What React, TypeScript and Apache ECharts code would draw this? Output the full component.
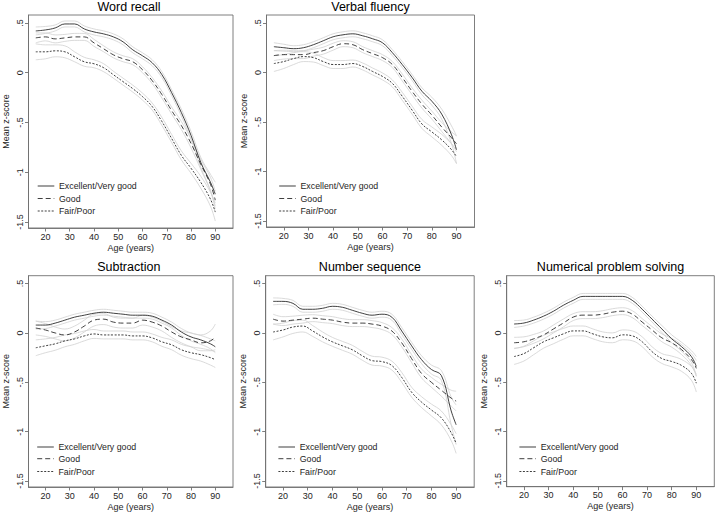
import React, { useEffect, useRef } from "react";
import * as echarts from "echarts";

// ---------- data ----------
const ages = [16, 20, 24, 28, 32, 36, 40, 44, 48, 52, 56, 60, 64, 68, 72, 76, 80, 84, 88, 90];
const xTicks = [20, 30, 40, 50, 60, 70, 80, 90];
const yTicks = [-1.5, -1, -0.5, 0, 0.5];
const groupLabels = ["Excellent/Very good", "Good", "Fair/Poor"];
const panelTitles = ["Word recall", "Verbal fluency", "Subtraction", "Number sequence", "Numerical problem solving"];

// Word recall
const wordE = [0.42, 0.43, 0.45, 0.49, 0.49, 0.44, 0.41, 0.39, 0.36, 0.31, 0.23, 0.17, 0.1, -0.02, -0.2, -0.4, -0.63, -0.9, -1.1, -1.22];
const wordG = [0.35, 0.36, 0.34, 0.35, 0.36, 0.36, 0.3, 0.24, 0.18, 0.14, 0.11, 0.03, -0.08, -0.22, -0.38, -0.53, -0.71, -0.92, -1.12, -1.28];
const wordF = [0.21, 0.21, 0.22, 0.21, 0.16, 0.11, 0.09, 0.05, -0.02, -0.09, -0.16, -0.24, -0.34, -0.49, -0.66, -0.83, -0.96, -1.1, -1.27, -1.4];
const wordCiE = [0.04, 0.035, 0.03, 0.03, 0.03, 0.03, 0.03, 0.03, 0.03, 0.03, 0.03, 0.03, 0.03, 0.03, 0.03, 0.035, 0.04, 0.05, 0.08, 0.12];
const wordCiG = [0.05, 0.04, 0.04, 0.035, 0.035, 0.035, 0.035, 0.03, 0.03, 0.03, 0.03, 0.03, 0.03, 0.035, 0.035, 0.04, 0.045, 0.05, 0.07, 0.09];
const wordCiF = [0.08, 0.07, 0.06, 0.06, 0.05, 0.045, 0.04, 0.04, 0.035, 0.035, 0.035, 0.035, 0.035, 0.04, 0.04, 0.045, 0.05, 0.06, 0.07, 0.09];

// Verbal fluency
const verbE = [0.26, 0.25, 0.24, 0.25, 0.28, 0.32, 0.36, 0.38, 0.39, 0.37, 0.34, 0.3, 0.2, 0.08, -0.05, -0.19, -0.29, -0.42, -0.63, -0.78];
const verbG = [0.17, 0.18, 0.18, 0.18, 0.2, 0.22, 0.26, 0.29, 0.28, 0.23, 0.19, 0.15, 0.08, -0.05, -0.19, -0.32, -0.43, -0.55, -0.66, -0.72];
const verbF = [0.09, 0.11, 0.14, 0.16, 0.15, 0.11, 0.08, 0.08, 0.09, 0.06, 0.01, -0.04, -0.11, -0.24, -0.38, -0.52, -0.6, -0.68, -0.78, -0.85];
const verbCiE = [0.04, 0.035, 0.03, 0.03, 0.03, 0.03, 0.03, 0.03, 0.03, 0.03, 0.03, 0.03, 0.03, 0.03, 0.03, 0.035, 0.04, 0.05, 0.09, 0.14];
const verbCiG = [0.05, 0.045, 0.04, 0.04, 0.035, 0.035, 0.035, 0.03, 0.03, 0.03, 0.03, 0.03, 0.03, 0.035, 0.035, 0.04, 0.04, 0.045, 0.06, 0.08];
const verbCiF = [0.08, 0.07, 0.06, 0.05, 0.045, 0.04, 0.04, 0.04, 0.035, 0.035, 0.035, 0.035, 0.035, 0.04, 0.04, 0.045, 0.05, 0.055, 0.06, 0.07];

// Subtraction
const subE = [0.08, 0.08, 0.1, 0.13, 0.16, 0.18, 0.2, 0.21, 0.2, 0.19, 0.18, 0.18, 0.17, 0.13, 0.08, 0.01, -0.04, -0.07, -0.11, -0.14];
const subG = [0.05, 0.03, 0.0, -0.02, 0.01, 0.07, 0.13, 0.14, 0.11, 0.1, 0.1, 0.13, 0.11, 0.07, 0.01, -0.04, -0.07, -0.1, -0.08, -0.04];
const subF = [-0.15, -0.13, -0.11, -0.08, -0.06, -0.03, -0.01, -0.02, -0.02, -0.02, -0.03, -0.03, -0.05, -0.09, -0.12, -0.17, -0.2, -0.22, -0.25, -0.27];
const subCiE = [0.04, 0.035, 0.03, 0.03, 0.03, 0.03, 0.03, 0.03, 0.03, 0.03, 0.03, 0.03, 0.03, 0.03, 0.03, 0.035, 0.04, 0.045, 0.05, 0.06];
const subCiG = [0.07, 0.065, 0.06, 0.06, 0.06, 0.06, 0.06, 0.055, 0.05, 0.05, 0.05, 0.05, 0.05, 0.05, 0.055, 0.06, 0.07, 0.08, 0.1, 0.13];
const subCiF = [0.08, 0.07, 0.065, 0.06, 0.055, 0.05, 0.045, 0.04, 0.04, 0.04, 0.04, 0.04, 0.04, 0.045, 0.05, 0.055, 0.06, 0.065, 0.075, 0.08];

// Number sequence
const seqE = [0.32, 0.32, 0.3, 0.24, 0.24, 0.25, 0.27, 0.26, 0.23, 0.2, 0.18, 0.19, 0.16, 0.02, -0.13, -0.27, -0.37, -0.43, -0.79, -0.93];
const seqG = [0.14, 0.12, 0.13, 0.14, 0.15, 0.14, 0.13, 0.11, 0.1, 0.1, 0.09, 0.07, 0.02, -0.1, -0.26, -0.41, -0.5, -0.58, -0.66, -0.69];
const seqF = [0.01, 0.03, 0.06, 0.07, 0.02, -0.04, -0.09, -0.13, -0.17, -0.23, -0.28, -0.29, -0.33, -0.45, -0.6, -0.7, -0.78, -0.86, -1.01, -1.12];
const seqCiE = [0.035, 0.03, 0.03, 0.03, 0.03, 0.03, 0.03, 0.03, 0.03, 0.03, 0.03, 0.03, 0.03, 0.035, 0.035, 0.04, 0.045, 0.05, 0.14, 0.2];
const seqCiG = [0.05, 0.045, 0.04, 0.04, 0.035, 0.035, 0.035, 0.035, 0.035, 0.035, 0.035, 0.035, 0.035, 0.04, 0.04, 0.045, 0.05, 0.06, 0.08, 0.1];
const seqCiF = [0.08, 0.07, 0.065, 0.06, 0.055, 0.05, 0.045, 0.045, 0.045, 0.045, 0.045, 0.045, 0.045, 0.05, 0.05, 0.055, 0.06, 0.07, 0.08, 0.1];

// Numerical problem solving
const numE = [0.09, 0.1, 0.13, 0.17, 0.22, 0.28, 0.33, 0.37, 0.37, 0.37, 0.37, 0.37, 0.33, 0.24, 0.14, 0.04, -0.06, -0.14, -0.24, -0.34];
const numG = [-0.1, -0.09, -0.06, -0.02, 0.04, 0.1, 0.16, 0.18, 0.18, 0.19, 0.21, 0.22, 0.19, 0.11, 0.03, -0.05, -0.1, -0.17, -0.27, -0.36];
const numF = [-0.24, -0.21, -0.15, -0.09, -0.05, -0.01, 0.02, 0.02, -0.01, -0.04, -0.05, -0.02, -0.03, -0.09, -0.19, -0.26, -0.29, -0.33, -0.41, -0.51];
const numCiE = [0.035, 0.03, 0.03, 0.03, 0.03, 0.03, 0.03, 0.03, 0.03, 0.03, 0.03, 0.03, 0.03, 0.03, 0.03, 0.035, 0.04, 0.045, 0.06, 0.1];
const numCiG = [0.055, 0.05, 0.045, 0.04, 0.04, 0.04, 0.035, 0.035, 0.035, 0.035, 0.035, 0.035, 0.035, 0.035, 0.035, 0.04, 0.045, 0.05, 0.06, 0.08];
const numCiF = [0.08, 0.075, 0.07, 0.065, 0.06, 0.055, 0.05, 0.05, 0.05, 0.05, 0.05, 0.05, 0.05, 0.05, 0.05, 0.05, 0.055, 0.06, 0.07, 0.09];

const panelMeans = [
  [wordE, wordG, wordF],
  [verbE, verbG, verbF],
  [subE, subG, subF],
  [seqE, seqG, seqF],
  [numE, numG, numF],
];
const panelCis = [
  [wordCiE, wordCiG, wordCiF],
  [verbCiE, verbCiG, verbCiF],
  [subCiE, subCiG, subCiF],
  [seqCiE, seqCiG, seqCiF],
  [numCiE, numCiG, numCiF],
];

// ---------- layout ----------
const boxes = [
  { left: 25, top: 15, width: 208, height: 213 },
  { left: 266.5, top: 15, width: 208, height: 212 },
  { left: 24.5, top: 275.7, width: 208.5, height: 211.8 },
  { left: 265.7, top: 275.7, width: 208.5, height: 211.3 },
  { left: 506.7, top: 275.7, width: 207.6, height: 211 },
];
const legendRowsTop = [186, 198.5, 211];
const legendRowsBottom = [447, 458.7, 471.5];

const FONT = "'Liberation Sans', Arial, Helvetica, sans-serif";
const AXIS = "#707070";
const CI = "#d0d0d0";
const INK = "#1e1e1e";
const dashes: any[] = ["solid", [5, 3], [2, 1.5]];

const fmtY = (v: number) => (v === 0 ? "0" : String(v).replace("0.", "."));

export default function App() {
  const ref = useRef<HTMLDivElement>(null);
  useEffect(() => {
    if (!ref.current) return;
    const chart = echarts.init(ref.current, null, { renderer: "svg" });

    const grid: any[] = [];
    const xAxis: any[] = [];
    const yAxis: any[] = [];
    const series: any[] = [];
    const graphic: any[] = [];

    boxes.forEach((b, i) => {
      grid.push({ ...b, show: true, borderColor: AXIS, borderWidth: 0.9, containLabel: false });
      xAxis.push({
        type: "value",
        gridIndex: i,
        position: "bottom",
        min: 13,
        max: 97.3,
        name: "Age (years)",
        nameLocation: "middle",
        nameGap: 15,
        nameTextStyle: { fontFamily: FONT, fontSize: 9, color: INK },
        axisLine: { show: true, onZero: false, lineStyle: { color: AXIS, width: 0.9 } },
        axisTick: { show: true, length: 3.5, customValues: xTicks, lineStyle: { color: AXIS, width: 0.9 } },
        axisLabel: { customValues: xTicks, margin: 4, fontFamily: FONT, fontSize: 9, color: INK },
        splitLine: { show: false },
      });
      yAxis.push({
        type: "value",
        gridIndex: i,
        position: "left",
        min: -1.56,
        max: 0.58,
        name: "Mean z-score",
        nameLocation: "middle",
        nameGap: 18.5,
        nameTextStyle: { fontFamily: FONT, fontSize: 9, color: INK },
        axisLine: { show: true, onZero: false, lineStyle: { color: AXIS, width: 0.9 } },
        axisTick: { show: true, length: 3.5, customValues: yTicks, lineStyle: { color: AXIS, width: 0.9 } },
        axisLabel: {
          customValues: yTicks,
          rotate: 90,
          margin: 4,
          fontFamily: FONT,
          fontSize: 9,
          color: INK,
          formatter: fmtY,
        },
        splitLine: { show: false },
      });

      const means = panelMeans[i];
      const cis = panelCis[i];
      // confidence bands (light gray)
      means.forEach((m, g) => {
        const ci = cis[g];
        series.push({
          type: "line",
          name: groupLabels[g] + " upper",
          xAxisIndex: i,
          yAxisIndex: i,
          data: ages.map((a, k) => [a, m[k] + ci[k]]),
          smooth: 0.4,
          showSymbol: false,
          symbol: "none",
          lineStyle: { color: CI, width: 0.8 },
          z: 1,
          silent: true,
        });
        series.push({
          type: "line",
          name: groupLabels[g] + " lower",
          xAxisIndex: i,
          yAxisIndex: i,
          data: ages.map((a, k) => [a, m[k] - ci[k]]),
          smooth: 0.4,
          showSymbol: false,
          symbol: "none",
          lineStyle: { color: CI, width: 0.8 },
          z: 1,
          silent: true,
        });
      });
      means.forEach((m, g) => {
        series.push({
          type: "line",
          name: groupLabels[g],
          xAxisIndex: i,
          yAxisIndex: i,
          data: ages.map((a, k) => [a, m[k]]),
          smooth: 0.4,
          showSymbol: false,
          symbol: "none",
          lineStyle: { color: INK, width: 0.85, type: dashes[g] },
          z: 3,
        });
      });

      // title
      graphic.push({
        type: "text",
        x: b.left + b.width / 2,
        y: i < 2 ? 6.5 : 267,
        style: {
          text: panelTitles[i],
          fontFamily: FONT,
          fontSize: 12.5,
          fill: "#000",
          align: "center",
          verticalAlign: "middle",
        },
      });
      // legend
      const rows = i < 2 ? legendRowsTop : legendRowsBottom;
      groupLabels.forEach((lab, g) => {
        const x0 = b.left + 12.7;
        graphic.push({
          type: "line",
          shape: { x1: x0, y1: rows[g], x2: x0 + 16.6, y2: rows[g] },
          style: { stroke: INK, lineWidth: 0.85, lineDash: g === 0 ? null : dashes[g] },
        });
        graphic.push({
          type: "text",
          x: x0 + 21.3,
          y: rows[g],
          style: {
            text: lab,
            fontFamily: FONT,
            fontSize: 8.8,
            fill: INK,
            align: "left",
            verticalAlign: "middle",
          },
        });
      });
    });

    chart.setOption({
      animation: false,
      backgroundColor: "#ffffff",
      grid,
      xAxis,
      yAxis,
      series,
      graphic,
    });
    return () => chart.dispose();
  }, []);

  return (
    <div
      ref={ref}
      style={{ position: "absolute", left: 0, top: 0, width: 717, height: 512 }}
    />
  );
}
